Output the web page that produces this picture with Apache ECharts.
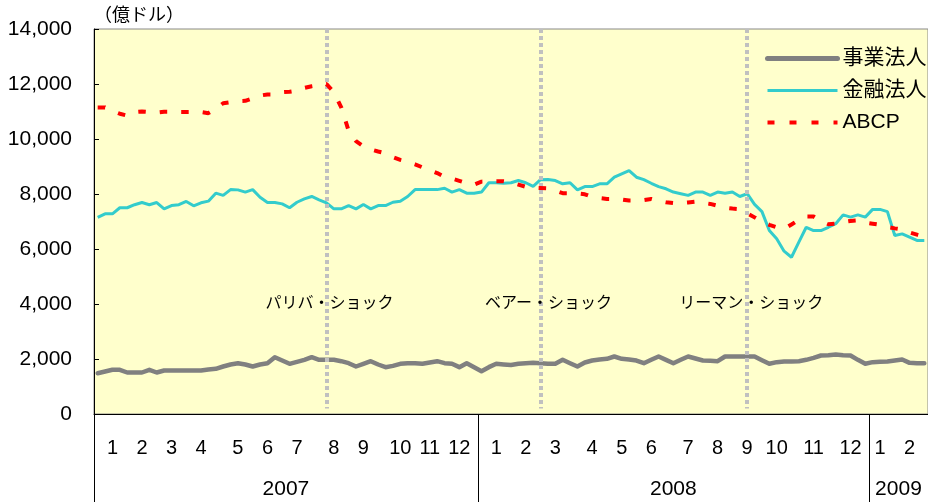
<!DOCTYPE html>
<html>
<head>
<meta charset="UTF-8">
<title>CP残高</title>
<script src="https://cdn.jsdelivr.net/npm/echarts@6/dist/echarts.min.js"></script>
<style>
html, body { margin: 0; padding: 0; background: #fff; }
#main { width: 928px; height: 502px; }
</style>
</head>
<body>
<div id="main"></div>
<script>
// 週次データ 2007/1 ～ 2009/2 (113週)
var corp = [1480,1545,1607,1607,1509,1509,1509,1607,1509,1582,
  1582,1582,1582,1582,1582,1620,1643,1727,1800,1848,
  1800,1727,1800,1848,2066,1945,1825,1897,1970,2066,
  1970,1970,1970,1920,1848,1727,1825,1920,1800,1703,
  1750,1825,1848,1848,1825,1873,1920,1848,1825,1703,
  1848,1703,1557,1703,1825,1800,1780,1825,1848,1860,
  1848,1825,1825,1970,1848,1727,1873,1945,1982,2006,
  2091,2006,1982,1945,1848,1970,2091,1970,1848,1970,
  2091,2018,1945,1933,1920,2091,2091,2091,2091,2091,
  1958,1825,1885,1909,1909,1920,1970,2042,2127,2139,
  2163,2139,2127,1970,1825,1885,1897,1909,1945,1982,
  1860,1848,1848];
var fin = [7150,7280,7280,7500,7500,7610,7690,7610,7690,7460,
  7580,7610,7730,7570,7680,7740,8030,7950,8160,8150,
  8070,8160,7880,7690,7690,7640,7500,7700,7820,7910,
  7790,7680,7460,7460,7580,7460,7620,7460,7580,7580,
  7700,7740,7910,8160,8160,8160,8160,8210,8070,8160,
  8030,8030,8070,8410,8410,8390,8410,8490,8410,8280,
  8520,8530,8490,8370,8410,8150,8270,8270,8370,8370,
  8610,8730,8850,8610,8520,8390,8270,8190,8070,8010,
  7950,8070,8070,7950,8070,8030,8070,7910,8010,7620,
  7360,6670,6370,5920,5700,6250,6790,6670,6670,6790,
  6920,7240,7160,7240,7160,7440,7440,7360,6490,6550,
  6430,6310,6310];
var abcp = [11150,11150,11020,10920,10850,10980,11000,10980,10960,10990,
  10990,10980,10980,10980,10980,10940,11100,11300,11340,11380,
  11390,11480,11580,11620,11620,11700,11720,11760,11860,11920,
  11960,12000,11700,11150,10300,9920,9730,9620,9545,9480,
  9340,9240,9170,9080,8970,8860,8760,8620,8560,8480,
  8400,8340,8450,8460,8460,8460,8420,8340,8260,8230,
  8220,8210,8120,8030,8030,8020,7990,7890,7850,7820,
  7820,7800,7760,7760,7780,7820,7750,7700,7670,7670,
  7690,7720,7680,7640,7570,7500,7470,7450,7300,7150,
  7000,6880,6790,6730,6890,7060,7180,7180,7010,6900,
  6920,6980,7020,7040,6960,6920,6880,6800,6750,6710,
  6600,6520,6440];

// 月ラベル(表示する週)
var monthLabels = ['1','2','3','4','5','6','7','8','9','10','11','12',
  '1','2','3','4','5','6','7','8','9','10','11','12','1','2'];
var monthWeeks = [2,6,10,14,19,23,27,32,36,41,45,49,
  54,58,62,67,71,75,80,84,88,92,97,102,106,110];
// 年
var years = ['2007','2008','2009'];
var yearStart = [0, 52, 105];
var totalWeeks = 113;
// ショック
var eventWeeks = [31, 60, 88];
var eventNames = ['パリバ・ショック', 'ベアー・ショック', 'リーマン・ショック'];
var eventShift = [3, 8, 4];

var weekLabels = [];
for (var i = 0; i < totalWeeks; i++) weekLabels.push('');
monthWeeks.forEach(function (w, k) { weekLabels[w] = monthLabels[k]; });

var yearEnd = yearStart.slice(1).concat([totalWeeks]);
var yearMid = yearStart.map(function (s, k) { return (s + yearEnd[k]) / 2; });

var FONT = "'Liberation Sans', 'Noto Sans CJK JP', sans-serif";
var chart = echarts.init(document.getElementById('main'));

chart.setOption({
  animation: false,
  backgroundColor: '#fff',
  textStyle: { fontFamily: FONT, color: '#000' },
  grid: {
    left: 94, top: 29, width: 836, height: 385,
    show: true, backgroundColor: '#FFFFCC', borderColor: '#888', borderWidth: 1
  },
  legend: {
    data: [
      { name: '事業法人', lineStyle: { width: 5, cap: 'round' } },
      { name: '金融法人', lineStyle: { width: 3 } },
      { name: 'ABCP', lineStyle: { width: 4, type: [7, 15] } }
    ],
    orient: 'vertical',
    left: 760, top: 43,
    itemWidth: 70, itemHeight: 14, itemGap: 11,
    itemStyle: { opacity: 0 },
    textStyle: { fontSize: 21, color: '#000', fontFamily: FONT }
  },
  xAxis: [{
    type: 'category',
    data: weekLabels,
    boundaryGap: true,
    position: 'bottom',
    axisLine: { lineStyle: { color: '#000', width: 1 } },
    axisTick: { show: false },
    axisLabel: { interval: 0, fontSize: 20, color: '#000', margin: 24 },
    splitLine: { show: false }
  }, {
    type: 'value',
    min: 0, max: totalWeeks,
    position: 'bottom',
    axisLine: { show: false },
    splitLine: { show: false },
    axisTick: {
      show: true, length: 88,
      customValues: yearStart.concat([totalWeeks]),
      lineStyle: { color: '#000', width: 1 }
    },
    axisLabel: {
      customValues: yearMid,
      formatter: function (v) { return years[yearMid.indexOf(v)]; },
      fontSize: 21, color: '#000', margin: 65
    }
  }],
  yAxis: {
    type: 'value',
    min: 0, max: 14000, interval: 2000,
    name: '（億ドル）',
    nameLocation: 'end',
    nameGap: 4,
    nameTextStyle: { fontSize: 18, color: '#000', align: 'left', fontFamily: FONT },
    axisLine: { show: true, lineStyle: { color: '#000', width: 1 } },
    axisTick: { show: true, inside: true, length: 5, lineStyle: { color: '#000' } },
    axisLabel: {
      fontSize: 21, color: '#000', margin: 22,
      formatter: function (v) { return v.toLocaleString('en-US'); }
    },
    splitLine: { show: false }
  },
  series: [{
    name: '事業法人',
    type: 'line',
    data: corp,
    symbol: 'none',
    lineStyle: { color: '#808080', width: 4.5, cap: 'round', join: 'round' },
    itemStyle: { color: '#808080' },
    markLine: {
      silent: true,
      symbol: ['none', 'none'],
      label: { show: false },
      lineStyle: { color: '#C0C0C0', width: 4, type: [4, 3] },
      data: eventWeeks.map(function (w) {
        return [{ coord: [w, 14000] }, { coord: [w, 200] }];
      })
    },
    markPoint: {
      silent: true,
      symbol: 'rect',
      symbolSize: 1,
      itemStyle: { color: 'rgba(0,0,0,0)' },
      label: {
        show: true, position: 'inside', formatter: '{b}',
        fontSize: 16, color: '#000', fontFamily: FONT
      },
      data: eventWeeks.map(function (w, k) {
        return { name: eventNames[k], coord: [w, 4000], label: { offset: [eventShift[k], 0] } };
      })
    }
  }, {
    name: '金融法人',
    type: 'line',
    data: fin,
    symbol: 'none',
    lineStyle: { color: '#33CCCC', width: 3 },
    itemStyle: { color: '#33CCCC' }
  }, {
    name: 'ABCP',
    type: 'line',
    data: abcp,
    symbol: 'none',
    z: 6,
    lineStyle: { color: '#FF0000', width: 4, type: [7.5, 14], cap: 'butt' },
    itemStyle: { color: '#FF0000' }
  }]
});
</script>
</body>
</html>
